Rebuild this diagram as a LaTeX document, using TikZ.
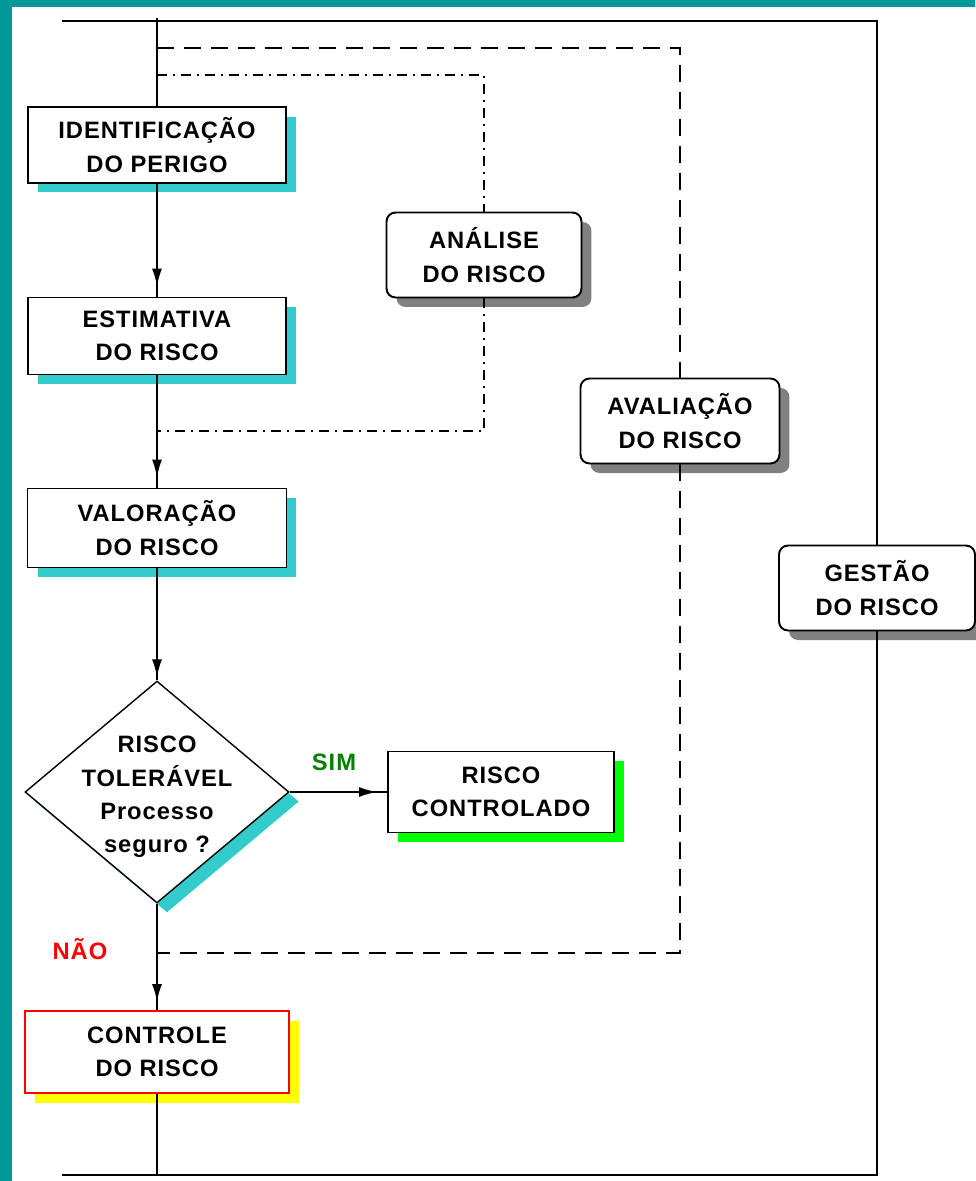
\documentclass[tikz,border=0pt]{standalone}
\usepackage{fontspec}
\setmainfont{Liberation Sans}[LetterSpace=4]
\usetikzlibrary{shapes.geometric, shadows, decorations.markings, arrows.meta}
\definecolor{borda}{HTML}{009999}
\definecolor{ciano}{HTML}{33CCCC}
\definecolor{verde}{HTML}{00FF00}
\definecolor{amarelo}{HTML}{FFFF00}
\definecolor{verdesim}{HTML}{008000}
\definecolor{cinza}{gray}{.5}
\newcommand{\txt}{\fontsize{13.5}{19}\selectfont\bfseries}
\tikzset{>=latex,
    caixa/.style={draw, fill=white, font=\txt, align=center, inner sep=0pt},
    sombra/.style={drop shadow={shadow xshift=.2cm, shadow yshift=-.19cm, fill=#1, opacity=1}},
    bloco/.style={caixa, rounded corners=.18cm, minimum height=1.7cm, sombra=cinza},
    fluxo/.style={postaction={decorate}, decoration={markings,
        mark=at position -#1 with {\arrow{Latex[length=.36cm, width=.2cm]}}}},
    fluxo/.default=.2cm,
    tracejado/.style={dash pattern=on .34cm off .2cm},
    tracoponto/.style={dash pattern=on .2cm off .12cm on .04cm off .12cm}
}

\begin{document}
\begin{tikzpicture}[x=.02cm, y=-.02cm, line width=1.1pt]
    \useasboundingbox (0, 0) rectangle (975, 1181);
    \fill[borda] (0, 0) rectangle (975, 1181);
    \fill[white] (12, 7) rectangle (975, 1181);
    % coluna principal
    \node[caixa, sombra=ciano, minimum width=5.16cm, minimum height=1.52cm] (perigo) at (157, 145) {IDENTIFICAÇÃO\\DO PERIGO};
    \node[caixa, sombra=ciano, minimum width=5.16cm, minimum height=1.54cm] (estimativa) at (157, 336) {ESTIMATIVA\\DO RISCO};
    \node[caixa, sombra=ciano, minimum width=5.18cm, minimum height=1.58cm] (valoracao) at (157, 528) {VALORAÇÃO\\DO RISCO};
    \node[diamond, draw, fill=white, line width=.8pt, inner sep=0pt, minimum width=5.28cm, minimum height=4.44cm, sombra=ciano] (decisao) at (157, 792) {};
    \node[font=\txt, align=center] (pergunta) at (157, 797) {RISCO\\TOLERÁVEL\\Processo\\seguro ?};
    \node[caixa, sombra=verde, minimum width=4.52cm, minimum height=1.62cm] (controlado) at (501, 792) {RISCO\\CONTROLADO};
    \node[caixa, draw=red, sombra=amarelo, minimum width=5.28cm, minimum height=1.64cm] (controle) at (157, 1052) {CONTROLE\\DO RISCO};
    % blocos laterais
    \node[bloco, minimum width=3.9cm] (analise) at (484, 255) {ANÁLISE\\DO RISCO};
    \node[bloco, minimum width=3.98cm] (avaliacao) at (680, 421) {AVALIAÇÃO\\DO RISCO};
    \node[bloco, minimum width=3.92cm] (gestao) at (877, 588) {GESTÃO\\DO RISCO};
    \node[font=\txt, text=verdesim] (sim) at (334, 762) {SIM};
    \node[font=\txt, text=red] (nao) at (80, 949) {NÃO};
    % cantos
    \coordinate (topo) at (157, 18);
    \coordinate (base) at (157, 1175);
    \coordinate (te) at (62, 21);
    \coordinate (td) at (877, 21);
    \coordinate (be) at (62, 1175);
    \coordinate (bd) at (877, 1175);
    \coordinate (t1) at (157, 48);
    \coordinate (t2) at (680, 48);
    \coordinate (t3) at (680, 953);
    \coordinate (t4) at (157, 953);
    \coordinate (p1) at (157, 75);
    \coordinate (p2) at (484, 75);
    \coordinate (p3) at (484, 431);
    \coordinate (p4) at (157, 431);
    % ligacoes
    \draw (te) -- (td) -- (gestao);
    \draw (gestao) -- (bd) -- (be);
    \draw[tracejado] (t1) -- (t2) -- (avaliacao);
    \draw[tracejado] (avaliacao) -- (t3) -- (t4);
    \draw[tracoponto] (p1) -- (p2) -- (analise);
    \draw[tracoponto] (analise) -- (p3) -- (p4);
    \draw (topo) -- (perigo);
    \draw[fluxo] (perigo) -- (estimativa);
    \draw[fluxo] (estimativa) -- (valoracao);
    \draw[fluxo=.06cm] (valoracao) -- (decisao);
    \draw[fluxo] (decisao.east) -- (controlado.west);
    \draw[fluxo=.16cm] (decisao) -- (controle);
    \draw (controle) -- (base);
\end{tikzpicture}
\end{document}
